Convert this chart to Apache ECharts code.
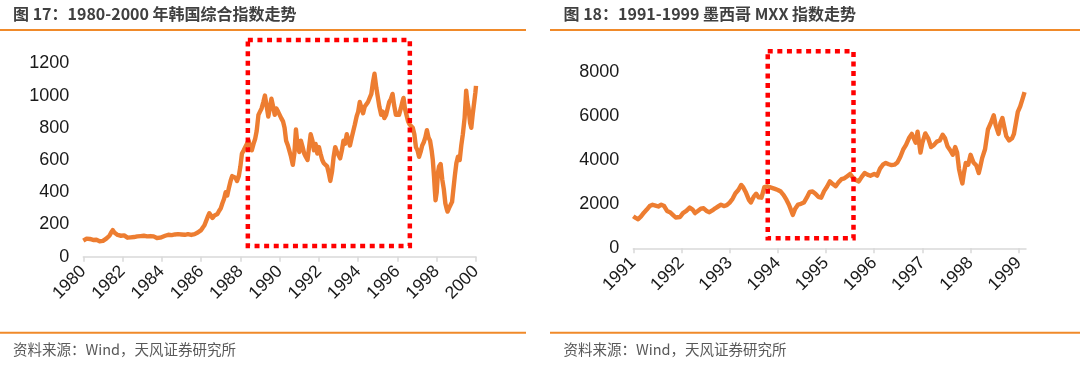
<!DOCTYPE html>
<html><head><meta charset="utf-8">
<script src="https://cdn.jsdelivr.net/npm/echarts@6/dist/echarts.min.js"></script>
<style>html,body{margin:0;padding:0;background:#fff}#c{width:1080px;height:366px}</style>
</head><body><div id="c"></div>
<script>
// ---------- texts ----------
const titleLeft = '图 17：1980-2000 年韩国综合指数走势';
const titleRight = '图 18：1991-1999 墨西哥 MXX 指数走势';
const sourceText = '资料来源：Wind，天风证券研究所';

// ---------- Korea composite index (x in years) ----------
const koreaYears = [
1980.00,1980.08,1980.17,1980.25,1980.33,1980.42,1980.50,1980.58,1980.67,1980.75,1980.83,1980.92,
1981.00,1981.08,1981.17,1981.25,1981.33,1981.42,1981.50,1981.58,1981.67,1981.75,1981.83,1981.92,
1982.00,1982.08,1982.17,1982.25,1982.33,1982.42,1982.50,1982.58,1982.67,1982.75,1982.83,1982.92,
1983.00,1983.08,1983.17,1983.25,1983.33,1983.42,1983.50,1983.58,1983.67,1983.75,1983.83,1983.92,
1984.00,1984.17,1984.33,1984.50,1984.67,1984.83,1985.00,1985.17,1985.33,1985.50,1985.67,1985.83,
1986.00,1986.08,1986.17,1986.25,1986.33,1986.42,1986.50,1986.58,1986.67,1986.75,1986.83,1986.92,
1987.00,1987.08,1987.17,1987.25,1987.33,1987.42,1987.50,1987.58,1987.67,1987.75,1987.83,1987.92,
1988.00,1988.08,1988.17,1988.25,1988.33,1988.42,1988.50,1988.58,1988.67,1988.75,1988.83,1988.92,
1989.00,1989.08,1989.17,1989.25,1989.33,1989.42,1989.50,1989.58,1989.67,1989.75,1989.83,1989.92,
1990.00,1990.08,1990.17,1990.25,1990.33,1990.42,1990.50,1990.58,1990.67,1990.75,1990.83,1990.92,
1991.00,1991.08,1991.17,1991.25,1991.33,1991.42,1991.50,1991.58,1991.67,1991.75,1991.83,1991.92,
1992.00,1992.08,1992.17,1992.25,1992.33,1992.42,1992.50,1992.58,1992.67,1992.75,1992.83,1992.92,
1993.00,1993.08,1993.17,1993.25,1993.33,1993.42,1993.50,1993.58,1993.67,1993.75,1993.83,1993.92,
1994.00,1994.08,1994.17,1994.25,1994.33,1994.42,1994.50,1994.58,1994.67,1994.75,1994.83,1994.92,
1995.00,1995.08,1995.17,1995.25,1995.33,1995.42,1995.50,1995.58,1995.67,1995.75,1995.83,1995.92,
1996.00,1996.08,1996.17,1996.25,1996.31,1996.38,1996.46,1996.54,1996.62,1996.70,1996.78,1996.86,1996.94,
1997.02,1997.10,1997.18,1997.26,1997.34,1997.42,1997.50,1997.58,1997.66,1997.74,1997.80,1997.86,1997.90,1997.94,
1998.00,1998.06,1998.12,1998.20,1998.28,1998.36,1998.44,1998.50,1998.55,1998.62,1998.70,1998.78,1998.85,1998.92,
1999.00,1999.08,1999.17,1999.25,1999.33,1999.42,1999.50,1999.56,1999.62,1999.70,1999.76,1999.83,1999.92,1999.97,2000.00
];
const koreaValues = [
100,108,112,108,110,106,104,108,105,100,96,102,
98,104,112,120,130,150,165,150,140,135,132,130,
128,132,125,118,110,120,116,122,118,126,122,128,
124,130,122,126,120,128,134,126,122,116,120,118,
122,130,136,134,138,140,138,136,140,135,140,150,
165,180,195,220,245,270,262,240,255,250,265,285,
300,330,360,400,380,430,470,500,510,490,470,500,
560,640,660,650,700,720,680,660,700,730,780,880,
900,920,960,1000,940,870,920,980,930,880,920,900,
890,860,840,800,720,690,700,620,570,640,790,680,
650,720,680,640,620,600,680,760,720,660,700,640,
680,640,600,580,570,560,520,470,530,620,680,650,
640,610,660,720,700,760,720,690,740,780,820,870,
900,960,920,890,930,920,960,950,1010,1080,1135,1050,
990,930,880,900,860,880,920,960,980,1010,940,880,
870,880,920,960,985,920,880,840,820,830,800,760,680,
660,620,650,690,710,740,785,740,720,660,600,500,420,350,
400,520,560,575,480,420,330,300,280,300,310,340,420,500,
580,620,600,690,760,860,1030,960,920,830,800,880,970,1020,1060
];

// ---------- Mexico MXX index (x in years) ----------
const mexicoYears = [
1991.00,1991.05,1991.10,1991.16,1991.22,1991.28,1991.34,1991.40,1991.46,1991.52,1991.58,1991.64,1991.70,1991.76,1991.82,1991.88,1991.92,1991.97,
1992.03,1992.10,1992.17,1992.23,1992.28,1992.34,1992.40,1992.46,1992.52,1992.58,1992.64,1992.70,1992.76,1992.82,1992.88,1992.94,
1993.00,1993.06,1993.12,1993.18,1993.24,1993.28,1993.34,1993.40,1993.44,1993.50,1993.55,1993.60,1993.66,1993.72,1993.78,1993.86,1993.94,
1994.00,1994.06,1994.12,1994.18,1994.23,1994.28,1994.31,1994.36,1994.42,1994.48,1994.54,1994.60,1994.66,1994.72,1994.78,1994.84,1994.90,1994.96,
1995.02,1995.08,1995.14,1995.20,1995.26,1995.32,1995.38,1995.44,1995.50,1995.56,1995.62,1995.68,1995.74,1995.80,1995.86,1995.92,
1996.00,1996.06,1996.12,1996.18,1996.24,1996.30,1996.36,1996.42,1996.48,1996.54,1996.60,1996.66,1996.72,1996.78,1996.82,1996.86,1996.90,1996.93,1996.96,
1997.00,1997.06,1997.12,1997.18,1997.24,1997.30,1997.36,1997.42,1997.47,1997.52,1997.58,1997.63,1997.68,1997.72,1997.76,1997.80,1997.83,1997.86,1997.90,1997.95,
1998.00,1998.06,1998.12,1998.17,1998.20,1998.24,1998.30,1998.36,1998.42,1998.48,1998.52,1998.58,1998.62,1998.66,1998.70,1998.74,1998.80,1998.86,1998.90,1998.94,1998.98,
1999.03,1999.08,1999.12
];
const mexicoValues = [
1460,1380,1320,1450,1620,1760,1920,1980,1940,1900,1980,1920,1700,1640,1520,1400,1310,1420,
1600,1700,1850,1760,1600,1700,1800,1820,1700,1640,1720,1820,1900,1980,1920,1960,
2080,2250,2500,2650,2880,2780,2520,2200,2080,2350,2480,2320,2300,2780,2820,2760,2700,
2650,2580,2420,2200,1980,1700,1520,1800,1990,2020,2080,2300,2560,2580,2480,2340,2300,2600,
2800,3040,2920,2820,3000,3140,3180,3280,3380,3200,3100,3040,3250,3420,3350,3300,
3380,3300,3620,3800,3880,3820,3780,3800,3900,4150,4480,4700,5000,5200,5250,4800,5300,5380,4350,
4800,5220,5000,4600,4700,4850,4900,5160,5000,4640,4450,4250,4600,4350,3600,3200,2950,3400,3880,3800,
4250,3900,3760,3420,3700,4100,4500,5400,5700,6050,5600,5200,5700,5920,5500,5100,4900,5000,5200,5700,6200,
6450,6800,7100
];

// ---------- axis ticks ----------
const koreaTicks = [1980,1982,1984,1986,1988,1990,1992,1994,1996,1998,2000];
const mexicoTicks = [1991,1992,1993,1994,1995,1996,1997,1998,1999];
const koreaYTicks = [0,200,400,600,800,1000,1200];
const mexicoYTicks = [0,2000,4000,6000,8000];

// ---------- highlighted boxes (data units) ----------
const koreaBoxX = [1988.38, 1996.63];
const koreaBoxY = [66, 1345];
const mexicoBoxX = [1993.79, 1995.57];
const mexicoBoxY = [455, 8955];

const ORANGE = '#ED7D31';
const HEAD = '#F08A2A';
const koreaData = koreaYears.map((x,i)=>[x, koreaValues[i]]);
const mexicoData = mexicoYears.map((x,i)=>[x, mexicoValues[i]]);

const labelFont = 'Liberation Sans';
function xAxis(gi, min, max, interval, ticks){
  return {
    type:'value', gridIndex:gi, min:min, max:max, interval:interval,
    axisLine:{show:true, lineStyle:{color:'#d9d9d9', width:1.5}},
    axisTick:{show:true, length:5, lineStyle:{color:'#d9d9d9', width:1.5}, customValues:ticks},
    axisLabel:{rotate:45, fontSize:17.5, color:'#1a1a1a', fontFamily:labelFont, margin:12,
      customValues:ticks, formatter:v=>String(Math.round(v))},
    splitLine:{show:false}
  };
}
function yAxis(gi, max, interval, ticks){
  return {
    type:'value', gridIndex:gi, min:0, max:max, interval:interval,
    axisLine:{show:false}, axisTick:{show:false}, splitLine:{show:false},
    axisLabel:{fontSize:18, color:'#1a1a1a', fontFamily:labelFont, margin:14, customValues:ticks,
      formatter:v=>String(Math.round(v))}
  };
}

const chart = echarts.init(document.getElementById('c'), null, {renderer:'canvas'});
chart.setOption({
  animation:false,
  backgroundColor:'#ffffff',
  grid:[
    {left:83.3, top:63.3, width:392.7, height:193.4},
    {left:633.3, top:72.3, width:392.7, height:176}
  ],
  xAxis:[ xAxis(0,1980,2000,2,koreaTicks), xAxis(1,1991,1999.15,1,mexicoTicks) ],
  yAxis:[ yAxis(0,1200,200,koreaYTicks), yAxis(1,8000,2000,mexicoYTicks) ],
  series:[
    {type:'line', xAxisIndex:0, yAxisIndex:0, data:koreaData, showSymbol:false, symbol:'none',
      lineStyle:{color:ORANGE, width:4.4, join:'round'}, z:3},
    {type:'line', xAxisIndex:1, yAxisIndex:1, data:mexicoData, showSymbol:false, symbol:'none',
      lineStyle:{color:ORANGE, width:4.4, join:'round'}, z:3}
  ]
});

function boxGraphic(gi, bx, by){
  const p1 = chart.convertToPixel({gridIndex:gi}, [bx[0], by[1]]);
  const p2 = chart.convertToPixel({gridIndex:gi}, [bx[1], by[0]]);
  return {type:'rect', z:100, silent:true,
    shape:{x:p1[0], y:p1[1], width:p2[0]-p1[0], height:p2[1]-p1[1]},
    style:{fill:null, stroke:'#FF0000', lineWidth:4.5, lineDash:[5,4.6]}};
}
const titleFont = 'bold 16px "Noto Sans CJK SC", sans-serif';
const srcFont = '14.5px "Noto Sans CJK SC", sans-serif';
chart.setOption({
  graphic:[
    {type:'text', x:13, y:13.5, style:{text:titleLeft, font:titleFont, fill:'#404040', verticalAlign:'middle'}},
    {type:'text', x:563.5, y:13.5, style:{text:titleRight, font:titleFont, fill:'#404040', verticalAlign:'middle'}},
    {type:'line', shape:{x1:0, y1:30, x2:526, y2:30}, style:{stroke:HEAD, lineWidth:2}},
    {type:'line', shape:{x1:550, y1:30, x2:1080, y2:30}, style:{stroke:HEAD, lineWidth:2}},
    {type:'line', shape:{x1:0, y1:332.7, x2:526, y2:332.7}, style:{stroke:HEAD, lineWidth:2}},
    {type:'line', shape:{x1:550, y1:332.7, x2:1080, y2:332.7}, style:{stroke:HEAD, lineWidth:2}},
    {type:'text', x:13, y:349.5, style:{text:sourceText, font:srcFont, fill:'#595959', verticalAlign:'middle'}},
    {type:'text', x:563.5, y:349.5, style:{text:sourceText, font:srcFont, fill:'#595959', verticalAlign:'middle'}},
    boxGraphic(0, koreaBoxX, koreaBoxY),
    boxGraphic(1, mexicoBoxX, mexicoBoxY)
  ]
});
</script></body></html>
